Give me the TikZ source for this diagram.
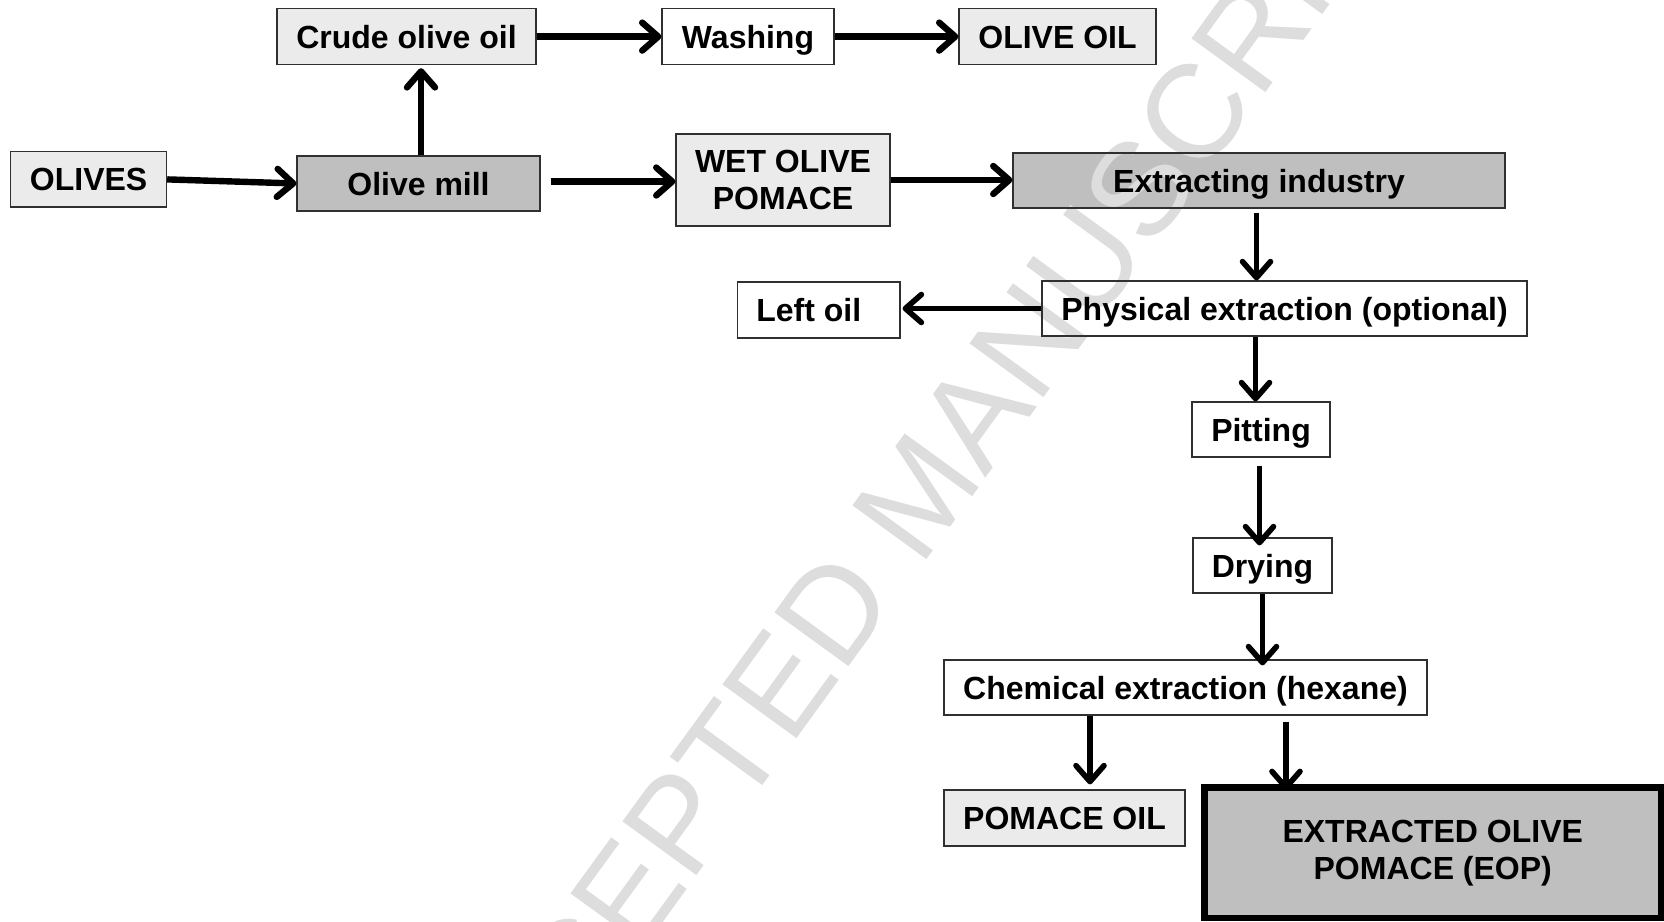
\documentclass[tikz,border=0pt]{standalone}
\usepackage{fontspec}
\setmainfont{Liberation Sans}
\usetikzlibrary{arrows.meta,calc}
\definecolor{lightbox}{HTML}{EBEBEB}
\definecolor{darkbox}{HTML}{BFBFBF}
\definecolor{wmark}{HTML}{DDDDDD}
\definecolor{edge}{HTML}{303030}
\pgfdeclarelayer{fills}
\pgfdeclarelayer{wm}
\pgfsetlayers{fills,wm,main}
\begin{document}
\begin{tikzpicture}[x=0.5pt,y=-0.5pt,
  box/.style={draw=edge, line width=0.6pt, inner sep=0pt, align=center,
    font=\fontsize{16pt}{18.5pt}\selectfont\bfseries, minimum height=27.5pt},
  one/.style={text height=11.5pt, text depth=0pt},
  arr/.style={line width=2.8pt, -{Straight Barb[length=8pt,width=14pt,round]}},
  thickarr/.style={arr, line width=3.2pt},
]
\useasboundingbox (0,0) rectangle (1664,921);
\clip (0,0) rectangle (1664,921);

% boxes
\node[box, one, minimum width=78pt, minimum height=27.6pt] (olives) at (88.6,179.4) {OLIVES};
\node[box, one, minimum width=121.5pt] (mill) at (418.5,183.5) {Olive mill};
\node[box, one, minimum width=129.5pt, minimum height=28pt] (crude) at (406.5,36.6) {Crude olive oil};
\node[box, one, minimum width=86pt, minimum height=28pt] (washing) at (748,36.6) {Washing};
\node[box, one, minimum width=98.5pt, minimum height=28pt] (oliveoil) at (1057.5,36.6) {OLIVE OIL};
\node[box, minimum width=107pt, minimum height=46pt] (wet) at (783,180) {WET OLIVE\\POMACE};
\node[box, one, minimum width=246pt] (extract) at (1259,180.5) {Extracting industry};
\node[box, one, minimum width=242.5pt] (phys) at (1284.5,308.5) {Physical extraction (optional)};
\node[box, one, minimum width=81.25pt, minimum height=28pt] (leftoil) at (818.75,310) {Left oil\hspace*{10pt}};
\node[box, one, minimum width=69pt] (pitting) at (1261,429.5) {Pitting};
\node[box, one, minimum width=69.5pt] (drying) at (1262.5,565.5) {Drying};
\node[box, one, minimum width=241.5pt] (chem) at (1185.5,687.5) {Chemical extraction (hexane)};
\node[box, one, minimum width=120.5pt, minimum height=28pt] (pomoil) at (1064.5,818) {POMACE OIL};
\node[box, draw=black, line width=3.25pt, minimum width=228.25pt, minimum height=65.25pt] (eop) at (1432.75,852.75) {EXTRACTED OLIVE\\POMACE (EOP)};

% fills
\begin{pgfonlayer}{fills}
  \fill[white] (0,0) rectangle (1664,921);
  \foreach \n in {olives,crude,oliveoil,wet,pomoil}
    \fill[lightbox] (\n.south west) rectangle (\n.north east);
  \foreach \n in {mill,extract,eop}
    \fill[darkbox] (\n.south west) rectangle (\n.north east);
\end{pgfonlayer}

% watermark
\begin{pgfonlayer}{wm}
  \node[text=wmark, font=\fontsize{66.5pt}{70pt}\selectfont, rotate=54, anchor=base west, inner sep=0pt] (wmtext) at (473,1184) {ACCEPTED MANUSCRIPT};
\end{pgfonlayer}

% connectors
\draw[thickarr] (olives.east) -- (mill.west);
\draw[thickarr, shorten >=1.5pt] ($(mill.north)+(2.5,0)$) -- ($(mill.north |- crude.south)+(2.5,0)$);
\draw[thickarr] (crude.east) -- (washing.west);
\draw[thickarr] (washing.east) -- (oliveoil.west);
\draw[thickarr] ($(mill.east)+(10,-2)$) -- ($(mill.east -| wet.west)+(0,-2)$);
\draw[thickarr] (wet.east) -- (wet.east -| extract.west);
\draw[arr, shorten <=2pt] ($(extract.south)+(-2.5,0)$) -- ($(extract.south |- phys.north)+(-2.5,0)$);
\draw[arr, shorten >=1pt] (phys.west) -- (phys.west -| leftoil.east);
\draw[arr] ($(pitting.north |- phys.south)+(-5.5,0)$) -- ($(pitting.north)+(-5.5,0)$);
\draw[arr, shorten <=4pt, shorten >=-4pt] ($(pitting.south)+(-1.5,0)$) -- ($(pitting.south |- drying.north)+(-1.5,0)$);
\draw[arr, shorten >=-3pt] (drying.south) -- (drying.south |- chem.north);
\draw[arr, shorten >=2.5pt] ($(chem.south)+(-95.5,0)$) -- ($(chem.south |- pomoil.north)+(-95.5,0)$);
\draw[arr, shorten <=3pt, shorten >=-3pt] ($(chem.south)+(100.5,0)$) -- ($(chem.south |- eop.north)+(100.5,0)$);
\end{tikzpicture}
\end{document}
